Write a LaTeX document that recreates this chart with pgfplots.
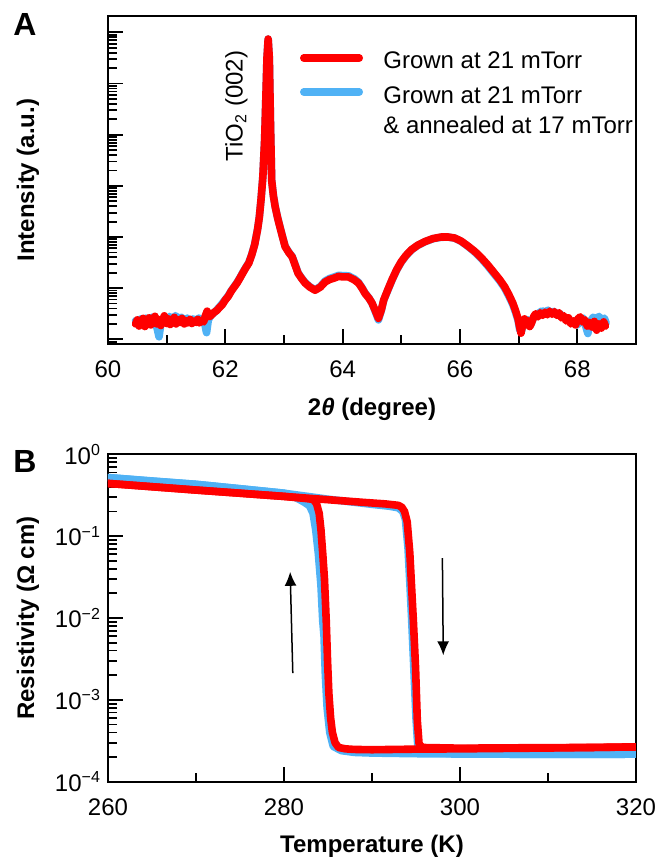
\documentclass[border=0pt]{standalone}
\usepackage{fontspec}
\setmainfont{Liberation Sans}
\usepackage{pgfplots}
\pgfplotsset{compat=1.18}
\usetikzlibrary{arrows.meta}
\definecolor{myred}{RGB}{255,0,0}
\definecolor{myblue}{RGB}{80,178,245}

\pgfplotstableread{
x y
60.47 2.00
60.50 2.40
60.53 1.82
60.56 2.19
60.60 2.57
60.63 1.78
60.66 2.14
60.70 2.63
60.73 1.91
60.76 2.29
60.80 2.82
60.83 2.00
60.86 2.45
60.90 1.86
60.93 2.34
60.96 2.88
61.00 2.04
61.03 2.51
61.06 1.95
61.10 2.29
61.13 2.69
61.16 2.00
61.20 2.40
61.23 2.14
61.26 2.57
61.30 2.00
61.33 2.34
61.36 2.09
61.40 2.45
61.43 2.04
61.46 2.29
61.50 2.14
61.53 2.45
61.56 2.09
61.60 2.34
61.63 2.19
61.66 2.88
61.69 3.55
61.72 2.75
61.76 2.95
61.80 3.31
61.85 3.63
61.90 4.17
61.95 4.79
62.00 5.89
62.05 6.92
62.10 8.71
62.15 10.5
62.20 12.6
62.25 15.8
62.30 20.0
62.35 25.1
62.40 30.9
62.45 44.7
62.50 70.8
62.55 141
62.58 245
62.61 562
62.64 1514
62.67 7943
62.69 47863
62.71 316228
62.73 741310
62.75 316228
62.77 15849
62.79 1288
62.82 631
62.85 389
62.89 240
62.93 158
62.98 95.5
63.02 64.6
63.08 50.1
63.14 40.7
63.19 28.2
63.24 19.5
63.30 15.5
63.36 12.6
63.44 10.5
63.53 9.12
63.62 10.5
63.70 13.2
63.78 14.8
63.86 15.8
63.93 17.0
64.00 16.6
64.10 16.6
64.20 14.5
64.27 12.6
64.33 10.0
64.38 7.94
64.45 6.31
64.50 5.13
64.56 3.55
64.61 2.57
64.66 3.80
64.70 5.89
64.77 9.33
64.84 14.5
64.92 22.9
65.00 33.1
65.08 43.7
65.17 56.2
65.28 69.2
65.40 81.3
65.54 93.3
65.68 100
65.80 100
65.91 95.5
66.02 83.2
66.14 66.1
66.25 52.5
66.36 39.8
66.47 28.8
66.59 19.5
66.68 14.5
66.76 10.7
66.83 7.59
66.90 5.13
66.95 3.55
66.99 2.51
67.02 1.66
67.04 1.32
67.07 2.00
67.10 2.51
67.13 1.91
67.16 2.29
67.19 1.78
67.22 2.09
67.26 2.82
67.29 3.16
67.33 2.75
67.37 3.31
67.41 2.95
67.45 3.39
67.49 3.02
67.53 3.55
67.57 3.09
67.61 3.47
67.65 2.95
67.69 3.31
67.73 2.63
67.77 2.88
67.81 2.29
67.85 2.63
67.89 2.00
67.93 2.29
67.97 1.91
68.01 2.51
68.05 2.75
68.09 2.19
68.13 2.40
68.17 1.82
68.21 2.14
68.25 1.74
68.29 2.24
68.33 1.51
68.37 2.00
68.41 1.66
68.45 2.19
68.48 1.82
}\xrdred

\pgfplotstableread{
x y
60.47 2.30
60.52 1.90
60.56 2.50
60.60 2.10
60.65 2.60
60.70 2.20
60.75 2.70
60.80 2.30
60.84 1.60
60.87 1.12
60.90 2.00
60.95 2.60
61.00 2.20
61.05 2.80
61.10 2.40
61.15 2.90
61.20 2.50
61.25 2.70
61.30 2.30
61.35 2.60
61.40 2.20
61.45 2.50
61.50 2.30
61.55 2.60
61.60 2.40
61.65 2.00
61.68 1.35
61.71 2.40
61.76 3.00
61.82 3.40
61.90 4.30
62.00 6.00
62.05 7.10
62.10 8.90
62.15 10.7
62.20 12.9
62.25 16.1
62.30 20.5
62.35 25.6
62.40 31.5
62.45 45.5
62.50 72.0
62.55 143
62.58 250
62.61 570
62.64 1530
62.67 8000
62.69 48000
62.71 316228
62.73 741310
62.75 316228
62.77 16000
62.79 1300
62.82 640
62.85 395
62.89 244
62.93 161
62.98 97.0
63.02 66.0
63.08 51.0
63.14 41.5
63.19 29.0
63.24 20.0
63.30 15.8
63.36 12.9
63.44 10.7
63.53 9.30
63.62 10.8
63.70 13.8
63.78 15.5
63.86 16.6
63.93 17.8
64.00 17.6
64.10 17.4
64.20 15.2
64.27 13.0
64.33 10.2
64.38 8.10
64.45 6.40
64.50 5.10
64.56 3.40
64.61 2.40
64.66 3.70
64.70 5.80
64.77 9.10
64.84 14.2
64.92 22.5
65.00 32.5
65.08 43.0
65.17 55.5
65.28 68.5
65.40 80.5
65.54 92.5
65.68 99.0
65.80 99.5
65.91 95.0
66.02 82.0
66.14 65.0
66.25 51.0
66.36 38.5
66.47 27.5
66.59 18.5
66.68 13.8
66.76 10.1
66.83 7.10
66.90 4.80
66.95 3.30
66.99 2.35
67.02 1.50
67.05 1.45
67.08 2.10
67.12 2.00
67.16 2.40
67.20 1.90
67.25 2.60
67.30 2.90
67.35 3.30
67.40 3.60
67.45 3.40
67.50 3.70
67.55 3.30
67.60 3.50
67.65 3.10
67.70 3.20
67.75 2.80
67.80 2.60
67.85 2.40
67.90 2.10
67.95 2.30
68.00 1.90
68.05 2.40
68.10 2.60
68.15 1.70
68.18 1.30
68.22 2.20
68.27 2.70
68.32 2.50
68.37 2.80
68.42 2.30
68.46 2.60
68.49 2.10
}\xrdblue

\pgfplotstableread{
T rho
260 0.441
265 0.402
270 0.366
275 0.335
280 0.306
285 0.279
289 0.259
291.5 0.248
293.0 0.238
293.4 0.225
293.7 0.200
294.0 0.150
294.3 0.062
294.5 0.024
294.7 0.0094
294.95 0.0025
295.15 0.00056
295.35 0.00029
295.7 0.000262
300 0.000257
305 0.000259
310 0.000261
315 0.000262
318 0.000265
320 0.000266
}\rhoredheat

\pgfplotstableread{
T rho
320 0.000266
315 0.000262
310 0.000258
305 0.000255
300 0.000252
295 0.000250
290 0.000246
288 0.000248
287 0.000252
286.2 0.000262
285.8 0.00030
285.5 0.00040
285.3 0.00060
285.1 0.0012
284.95 0.0030
284.8 0.0093
284.6 0.030
284.4 0.062
284.2 0.12
284.0 0.19
283.7 0.25
283.3 0.282
282 0.292
280 0.306
270 0.366
260 0.441
}\rhoredcool

\pgfplotstableread{
T rho
260 0.52
265 0.47
270 0.43
275 0.38
280 0.335
285 0.283
290 0.245
292 0.232
293 0.222
293.5 0.20
293.8 0.16
294.1 0.07
294.3 0.027
294.5 0.010
294.75 0.0025
295.0 0.0006
295.2 0.00028
295.5 0.000228
300 0.000218
310 0.000216
320 0.000217
}\rhoblueheat

\pgfplotstableread{
T rho
320 0.000217
310 0.000216
300 0.000218
295 0.000220
290 0.000224
288 0.000228
286.5 0.000240
285.6 0.00027
285.2 0.00040
284.9 0.0008
284.7 0.0020
284.55 0.006
284.4 0.0093
284.2 0.025
283.9 0.062
283.6 0.12
283.3 0.19
282.9 0.235
282.3 0.26
281.5 0.29
280.5 0.32
280 0.335
270 0.43
260 0.52
}\rhobluecool

\pgfplotsset{
  panel/.style={
    scale only axis, clip mode=individual,
    axis line style={line width=1pt},
    tick align=inside, xtick pos=left, ytick pos=left,
    major tick length=7.5pt, minor tick length=4.5pt,
    tick style={black, line width=0.9pt},
    /pgf/number format/assume math mode=true,
    tick label style={font=\fontsize{12}{14}\selectfont},
    xticklabel style={yshift=-4.9pt},
    every axis y label/.style={at={(axis description cs:-0.1515,0.5)}, rotate=90, anchor=center, font=\bfseries\fontsize{12}{14}\selectfont},
    every axis x label/.style={at={(axis description cs:0.5,-0.198)}, anchor=center, font=\bfseries\fontsize{12}{14}\selectfont},
  },
  dataline/.style={line width=3.8pt, line cap=round, line join=round},
}

\begin{document}
\begin{tikzpicture}[font=\fontsize{12}{14.4}\selectfont]
\path[use as bounding box] (0,0) rectangle (331.5pt,-429pt);

\begin{axis}[panel,
  at={(54pt,-172pt)}, anchor=south west, width=264pt, height=164pt,
  xmin=60, xmax=69, ymode=log, ymin=0.81, ymax=2.09e6,
  xtick={60,62,64,66,68}, minor xtick={61,63,65,67},
  ytick={1,10,100,1000,10000,100000,1000000}, yticklabels={},
  minor ytick={0.9,2,3,4,5,6,7,8,9,20,30,40,50,60,70,80,90,200,300,400,500,600,700,800,900,2000,3000,4000,5000,6000,7000,8000,9000,2e4,3e4,4e4,5e4,6e4,7e4,8e4,9e4,2e5,3e5,4e5,5e5,6e5,7e5,8e5,9e5},
  xlabel={2\textit{θ} (degree)},
  ylabel={Intensity (a.u.)},
]
\addplot[myblue, dataline] table[x=x,y=y] {\xrdblue};
\addplot[myred, dataline] table[x=x,y=y] {\xrdred};
\node[rotate=90] at (axis cs:62.19,3.63e4) {TiO\textsubscript{2} (002)};
\end{axis}

\begin{axis}[panel,
  at={(54pt,-390.85pt)}, anchor=south west, width=264pt, height=163.7pt,
  xmin=260, xmax=320, ymode=log, ymin=1e-4, ymax=1,
  xtick={260,280,300,320}, minor xtick={270,290,310},
  ytick={1e-4,1e-3,1e-2,1e-1,1},
  yticklabels={10\textsuperscript{−4},10\textsuperscript{−3},10\textsuperscript{−2},10\textsuperscript{−1},10\textsuperscript{0}},
  minor ytick={2e-4,3e-4,4e-4,5e-4,6e-4,7e-4,8e-4,9e-4,2e-3,3e-3,4e-3,5e-3,6e-3,7e-3,8e-3,9e-3,0.02,0.03,0.04,0.05,0.06,0.07,0.08,0.09,0.2,0.3,0.4,0.5,0.6,0.7,0.8,0.9},
  xlabel={Temperature (K)},
  ylabel={Resistivity (Ω cm)},
]
\addplot[myblue, dataline] table[x=T,y=rho] {\rhoblueheat};
\addplot[myblue, dataline] table[x=T,y=rho] {\rhobluecool};
\addplot[myred, dataline] table[x=T,y=rho] {\rhoredheat};
\addplot[myred, dataline] table[x=T,y=rho] {\rhoredcool};
\draw[-{Latex[length=7pt,width=6pt]}, line width=0.75pt] (axis cs:281.0,2.12e-3) -- (axis cs:280.7,3.67e-2);
\draw[-{Latex[length=7pt,width=6pt]}, line width=0.75pt] (axis cs:298.0,5.4e-2) -- (axis cs:298.1,3.5e-3);
\end{axis}

% legend of panel A
\draw[myred, line width=3.8pt, line cap=round] (151.9pt,-29pt) -- (179.6pt,-29pt);
\draw[myblue, line width=3.8pt, line cap=round] (151.9pt,-46pt) -- (179.6pt,-46pt);
\node[anchor=base west, inner sep=0pt] at (191.5pt,-34pt) {Grown at 21 mTorr};
\node[anchor=base west, inner sep=0pt] at (191.5pt,-51.5pt) {Grown at 21 mTorr};
\node[anchor=base west, inner sep=1pt, fill=white, text height=10pt, text depth=3pt] at (190.5pt,-66.5pt) {\& annealed at 17 mTorr};

% panel letters
\node[anchor=north west, inner sep=0pt, font=\bfseries\fontsize{16}{19}\selectfont] at (6.5pt,-6.5pt) {A};
\node[anchor=north west, inner sep=0pt, font=\bfseries\fontsize{16}{19}\selectfont] at (6.5pt,-225pt) {B};
\end{tikzpicture}
\end{document}
